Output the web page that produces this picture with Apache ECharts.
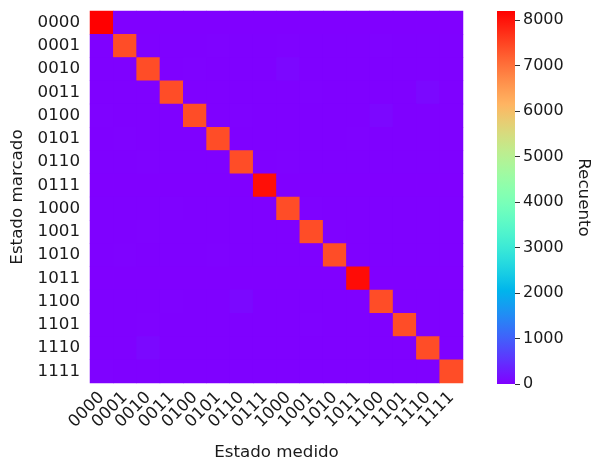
<!DOCTYPE html>
<html>
<head>
<meta charset="utf-8">
<script src="https://cdn.jsdelivr.net/npm/echarts@6/dist/echarts.min.js"></script>
<style>html,body{margin:0;padding:0;background:#fff;}#c{width:594px;height:461px;}</style>
</head>
<body>
<div id="c"></div>
<script>
const states = ['0000','0001','0010','0011','0100','0101','0110','0111','1000','1001','1010','1011','1100','1101','1110','1111'];
const counts = [
  [8200, 4, 3, 0, 4, 0, 0, 0, 3, 0, 0, 0, 0, 0, 0, 0],
  [12, 7400, 10, 14, 12, 16, 10, 12, 15, 14, 12, 10, 16, 14, 12, 12],
  [14, 12, 7400, 10, 16, 10, 12, 14, 70, 12, 10, 10, 12, 10, 10, 10],
  [12, 14, 12, 7400, 10, 14, 12, 12, 14, 16, 12, 12, 10, 10, 75, 10],
  [15, 12, 14, 12, 7400, 12, 15, 10, 12, 12, 14, 10, 65, 10, 10, 10],
  [12, 15, 12, 14, 12, 7400, 12, 14, 12, 14, 12, 15, 12, 14, 12, 12],
  [14, 12, 15, 12, 14, 12, 7400, 12, 15, 12, 14, 12, 12, 12, 14, 12],
  [3, 4, 2, 3, 3, 2, 4, 8050, 3, 2, 3, 2, 3, 2, 3, 2],
  [12, 14, 12, 15, 12, 14, 12, 12, 7400, 15, 12, 14, 12, 12, 14, 12],
  [14, 12, 15, 12, 14, 12, 14, 12, 12, 7400, 15, 12, 14, 12, 12, 12],
  [12, 15, 12, 14, 12, 15, 12, 14, 12, 12, 7400, 14, 12, 14, 12, 14],
  [2, 3, 3, 2, 3, 2, 3, 3, 2, 3, 2, 8080, 3, 2, 2, 3],
  [14, 12, 12, 15, 12, 12, 75, 12, 14, 12, 12, 14, 7400, 12, 12, 12],
  [12, 14, 15, 12, 14, 12, 12, 14, 12, 15, 14, 12, 12, 7400, 14, 12],
  [12, 12, 75, 14, 12, 12, 14, 12, 12, 14, 12, 12, 14, 12, 7400, 14],
  [15, 12, 12, 14, 12, 14, 12, 12, 14, 12, 14, 12, 12, 14, 12, 7400]
];
const cbTicks = [0, 1000, 2000, 3000, 4000, 5000, 6000, 7000, 8000];
const vmax = 8200;
function rainbow(x) {
  const r = Math.min(1, Math.max(0, Math.abs(2 * x - 0.5)));
  const g = Math.min(1, Math.max(0, Math.sin(Math.PI * x)));
  const b = Math.min(1, Math.max(0, Math.cos(Math.PI * x / 2)));
  const h = v => Math.round(v * 255).toString(16).padStart(2, '0');
  return '#' + h(r) + h(g) + h(b);
}
const N = 64;
const rangeColors = [];
const gradStops = [];
for (let i = 0; i <= N; i++) {
  rangeColors.push(rainbow(i / N));
  gradStops.push({ offset: 1 - i / N, color: rainbow(i / N) });
}
const heatData = [];
for (let r = 0; r < states.length; r++) {
  for (let c = 0; c < states.length; c++) {
    heatData.push([c, r, counts[r][c]]);
  }
}
const font = 'DejaVu Sans';
const txt = '#1a1a1a';
const chart = echarts.init(document.getElementById('c'), null, { renderer: 'canvas' });
chart.setOption({
  animation: false,
  backgroundColor: '#fff',
  textStyle: { fontFamily: font },
  grid: [
    { left: 90, top: 11, width: 373, height: 372, show: true, backgroundColor: rainbow(0), borderWidth: 0, outerBoundsMode: 'none', containLabel: false },
    { left: 497, top: 11, width: 18, height: 373, outerBoundsMode: 'none', containLabel: false }
  ],
  xAxis: [
    {
      type: 'category', gridIndex: 0, data: states,
      axisLine: { show: false }, axisTick: { show: false },
      splitLine: { show: false },
      axisLabel: { rotate: 45, fontSize: 16.7, color: txt, fontFamily: font, margin: 12, interval: 0 },
      name: 'Estado medido', nameLocation: 'middle', nameGap: 61,
      nameTextStyle: { fontSize: 16.7, color: txt, fontFamily: font }
    },
    { type: 'category', gridIndex: 1, data: [''], show: false }
  ],
  yAxis: [
    {
      type: 'category', gridIndex: 0, data: states, inverse: true,
      axisLine: { show: false }, axisTick: { show: false },
      splitLine: { show: false },
      axisLabel: { fontSize: 16.7, color: txt, fontFamily: font, margin: 10, interval: 0 },
      name: 'Estado marcado', nameLocation: 'middle', nameGap: 57,
      nameTextStyle: { fontSize: 16.7, color: txt, fontFamily: font }
    },
    {
      type: 'value', gridIndex: 1, position: 'right', min: 0, max: vmax, interval: 1000,
      axisLine: { show: false },
      axisTick: { show: true, inside: false, length: 5, lineStyle: { color: '#333', width: 1 } },
      splitLine: { show: false },
      axisLabel: {
        fontSize: 16, color: txt, fontFamily: font, margin: 8,
        showMaxLabel: false,
        formatter: v => cbTicks.indexOf(v) >= 0 ? String(v) : ''
      },
      name: 'Recuento', nameLocation: 'middle', nameGap: 60, nameRotate: -90,
      nameTextStyle: { fontSize: 16.7, color: txt, fontFamily: font }
    }
  ],
  visualMap: {
    show: false, type: 'continuous', seriesIndex: 0, min: 0, max: vmax,
    inRange: { color: rangeColors }
  },
  series: [
    { type: 'heatmap', xAxisIndex: 0, yAxisIndex: 0, data: heatData, itemStyle: { borderWidth: 0 }, emphasis: { disabled: true } },
    { type: 'bar', xAxisIndex: 1, yAxisIndex: 1, data: [vmax], barWidth: '100%',
      itemStyle: { color: new echarts.graphic.LinearGradient(0, 0, 0, 1, gradStops) }, silent: true }
  ]
});
</script>
</body>
</html>
